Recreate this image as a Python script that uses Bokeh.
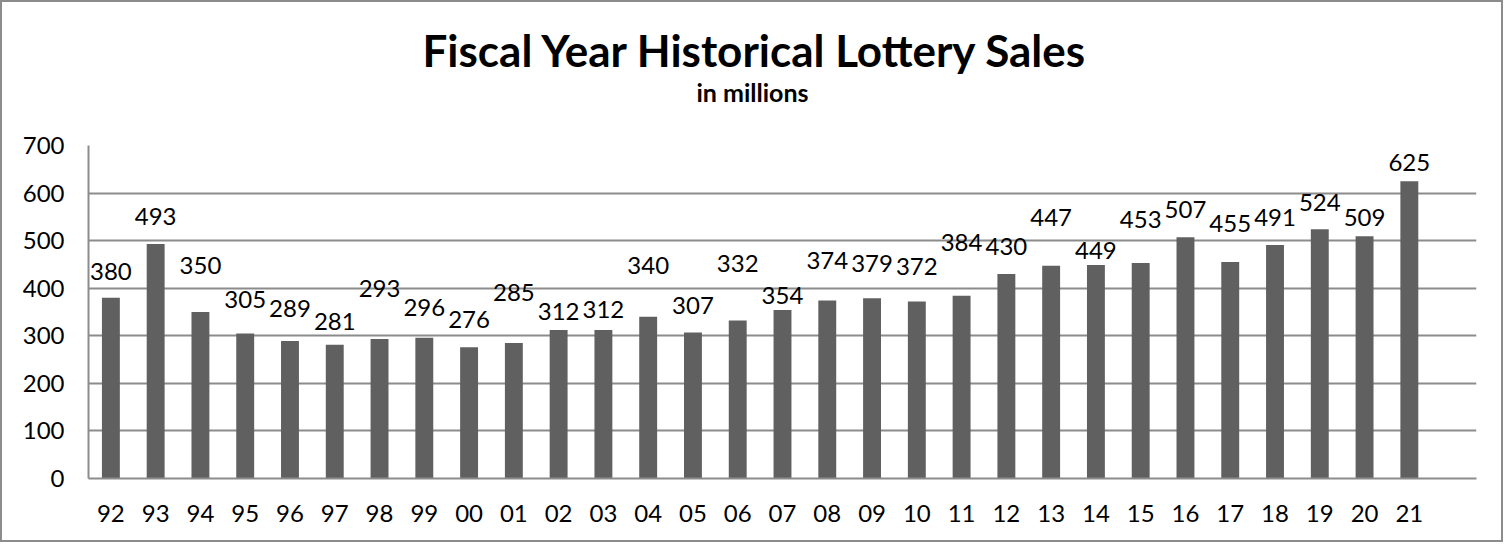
from bokeh.plotting import figure
from bokeh.models import Range1d, FixedTicker, ColumnDataSource, LabelSet, Title
from bokeh.core.properties import value
from bokeh.embed import file_html
from bokeh.resources import INLINE

years = ["92", "93", "94", "95", "96", "97", "98", "99", "00", "01", "02", "03", "04", "05", "06",
         "07", "08", "09", "10", "11", "12", "13", "14", "15", "16", "17", "18", "19", "20", "21"]
sales = [380, 493, 350, 305, 289, 281, 293, 296, 276, 285, 312, 312, 340, 307, 332,
         354, 374, 379, 372, 384, 430, 447, 449, 453, 507, 455, 491, 524, 509, 625]
# vertical placement of each data label (in data units), as laid out in the reference
label_y = [436, 550, 448, 376, 357, 331, 399, 359, 334, 392, 352, 355, 448, 364, 452,
           385, 458, 451, 445, 497, 488, 549, 479, 544, 565, 536, 548, 580, 548, 665]
y_ticks = [0, 100, 200, 300, 400, 500, 600, 700]

FONT = "Lato"
GRID = "#8c8c8c"
BAR = "#606060"

n = len(years)
xs = list(range(n))
src = ColumnDataSource(dict(x=xs, top=sales, ly=label_y, txt=[str(v) for v in sales]))

p = figure(width=1499, height=538, output_backend="svg", toolbar_location=None,
           x_range=Range1d(-0.5, n + 0.5), y_range=Range1d(0, 700),
           frame_width=1388, frame_height=333,
           min_border_left=86, min_border_right=25, min_border_top=143, min_border_bottom=62)
p.styles = {"border": "2px solid #8c8c8c", "box-sizing": "border-box"}
p.outline_line_color = None
p.background_fill_color = "white"
p.border_fill_color = "white"

p.vbar(x="x", top="top", bottom=0, width=0.4, source=src, fill_color=BAR, line_color=None)

# axes
p.xaxis.ticker = FixedTicker(ticks=xs)
p.xaxis.major_label_overrides = {i: y for i, y in enumerate(years)}
p.yaxis.ticker = FixedTicker(ticks=y_ticks)
for ax in (p.xaxis[0], p.yaxis[0]):
    ax.axis_line_color = GRID
    ax.axis_line_width = 2
    ax.major_tick_line_color = None
    ax.minor_tick_line_color = None
    ax.major_label_text_font = FONT
    ax.major_label_text_font_size = "24px"
    ax.major_label_text_color = "black"
p.xaxis.major_label_standoff = 20
p.yaxis.major_label_standoff = 18

p.xgrid.grid_line_color = None
p.ygrid.ticker = FixedTicker(ticks=y_ticks)
p.ygrid.grid_line_color = GRID
p.ygrid.grid_line_width = 2

labels = LabelSet(x="x", y="ly", text="txt", source=src, text_align="center",
                  text_baseline="middle", text_font=value(FONT), text_font_size="24px",
                  text_color="black")
p.add_layout(labels)

sub = Title(text="in millions", align="left", text_font=FONT, text_font_style="bold",
            text_font_size="25px", text_color="black", standoff=78, offset=608)
main = Title(text="Fiscal Year Historical Lottery Sales", align="left", text_font=FONT,
             text_font_style="bold", text_font_size="44px", text_color="black", standoff=-81,
             offset=334)
p.add_layout(sub, "above")
p.add_layout(main, "above")

open("out.html", "w").write(file_html(p, INLINE))
